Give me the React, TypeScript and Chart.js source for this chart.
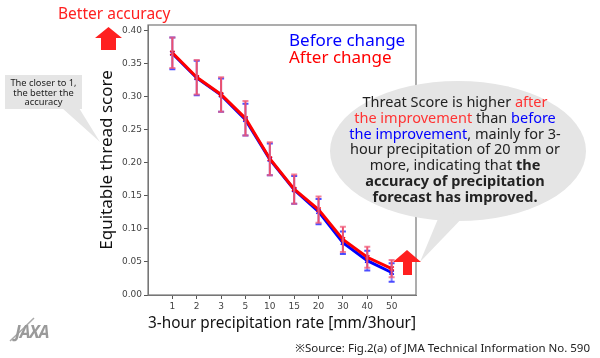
import React, { useEffect, useRef } from "react";
import { Chart, registerables } from "chart.js";

Chart.register(...registerables);

const categories = ["1", "2", "3", "5", "10", "15", "20", "30", "40", "50"];
const beforeValues = [0.365, 0.328, 0.302, 0.265, 0.205, 0.159, 0.126, 0.079, 0.052, 0.034];
const afterValues = [0.366, 0.329, 0.303, 0.267, 0.206, 0.16, 0.129, 0.084, 0.057, 0.04];
const beforeErrors = [0.024, 0.026, 0.025, 0.024, 0.024, 0.021, 0.019, 0.017, 0.015, 0.014];
const afterErrors = [0.023, 0.026, 0.026, 0.026, 0.025, 0.022, 0.02, 0.019, 0.016, 0.013];
const yTicks = [0, 0.05, 0.1, 0.15, 0.2, 0.25, 0.3, 0.35, 0.4];

const BLUE = "#0000ff";
const RED = "#ff0000";

const errorBarPlugin = {
  id: "errorBars",
  afterDatasetsDraw(chart: any) {
    const ctx = chart.ctx;
    const xs = chart.scales.x;
    const ys = chart.scales.y;
    const draw = (vals: number[], errs: number[], color: string, capColor: string) => {
      vals.forEach((v, i) => {
        const x = xs.getPixelForValue(i);
        const yt = ys.getPixelForValue(v + errs[i]);
        const yb = ys.getPixelForValue(v - errs[i]);
        ctx.save();
        ctx.strokeStyle = color;
        ctx.lineWidth = 2;
        ctx.beginPath();
        ctx.moveTo(x, yt);
        ctx.lineTo(x, yb);
        ctx.stroke();
        ctx.strokeStyle = capColor;
        ctx.beginPath();
        ctx.moveTo(x - 3, yt);
        ctx.lineTo(x + 3, yt);
        ctx.moveTo(x - 3, yb);
        ctx.lineTo(x + 3, yb);
        ctx.stroke();
        ctx.restore();
      });
    };
    draw(beforeValues, beforeErrors, "rgba(80,80,255,0.7)", "rgba(60,60,255,0.9)");
    draw(afterValues, afterErrors, "rgba(236,80,110,1)", "rgba(240,90,120,0.75)");
  },
  afterDraw(chart: any) {
    const { left, top, right, bottom } = chart.chartArea;
    const ctx = chart.ctx;
    ctx.save();
    ctx.strokeStyle = "#777";
    ctx.lineWidth = 1.2;
    ctx.strokeRect(left, top, right - left, bottom - top);
    ctx.restore();
  },
};

export default function App() {
  const ref = useRef<HTMLCanvasElement>(null);

  useEffect(() => {
    if (!ref.current) return;
    const chart = new Chart(ref.current, {
      type: "line",
      data: {
        datasets: [
          {
            label: "Before change",
            data: beforeValues.map((v, i) => ({ x: i, y: v })),
            order: 2,
            borderColor: BLUE,
            backgroundColor: BLUE,
            borderWidth: 3,
            pointStyle: "crossRot",
            pointRadius: 3,
            pointBorderWidth: 1.5,
            pointBorderColor: BLUE,
          },
          {
            label: "After change",
            data: afterValues.map((v, i) => ({ x: i, y: v })),
            order: 1,
            borderColor: RED,
            backgroundColor: RED,
            borderWidth: 3,
            pointStyle: "crossRot",
            pointRadius: 3,
            pointBorderWidth: 1.5,
            pointBorderColor: RED,
          },
        ],
      },
      options: {
        responsive: false,
        maintainAspectRatio: false,
        animation: false,
        layout: { padding: { left: 0, right: 184, top: 25, bottom: 0 } },
        plugins: { legend: { display: false }, tooltip: { enabled: false } },
        scales: {
          x: {
            type: "linear",
            min: -1,
            max: 10,
            afterBuildTicks: (s: any) => {
              s.ticks = categories.map((_, i) => ({ value: i }));
            },
            afterFit: (s: any) => {
              s.height = 63;
            },
            ticks: {
              autoSkip: false,
              maxRotation: 0,
              padding: 2,
              color: "#444",
              font: { family: "DejaVu Sans", size: 9 },
              callback: (v: any) => categories[v as number] ?? "",
            },
            grid: { drawOnChartArea: false, tickLength: 4, color: "#555" },
            border: { color: "#777" },
            title: {
              display: true,
              text: "3-hour precipitation rate [mm/3hour]",
              color: "#111",
              font: { family: "Noto Sans", size: 17 },
              padding: { top: 0, bottom: 25 },
            },
          },
          y: {
            min: 0,
            max: 0.408,
            afterBuildTicks: (s: any) => {
              s.ticks = yTicks.map((v) => ({ value: v }));
            },
            afterFit: (s: any) => {
              s.width = 148;
            },
            ticks: {
              padding: 2,
              color: "#444",
              font: { family: "DejaVu Sans", size: 9 },
              callback: (v: any) => Number(v).toFixed(2),
            },
            grid: { drawOnChartArea: false, tickLength: 4, color: "#555" },
            border: { color: "#777" },
            title: {
              display: true,
              text: "Equitable thread score",
              color: "#111",
              font: { family: "Noto Sans", size: 17 },
              padding: { top: 97, bottom: 0 },
            },
          },
        },
      },
      plugins: [errorBarPlugin],
    } as any);
    return () => chart.destroy();
  }, []);

  const font = "'Noto Sans', sans-serif";
  const abs = (s: React.CSSProperties): React.CSSProperties => ({ position: "absolute", ...s });

  return (
    <div style={{ position: "absolute", left: 0, top: 0, width: 600, height: 358, background: "#fff", overflow: "hidden", fontFamily: font }}>
      <canvas ref={ref} width={600} height={358} style={{ position: "absolute", left: 0, top: 0 }} />
      <svg width={600} height={358} style={{ position: "absolute", left: 0, top: 0 }}>
        <ellipse cx={458} cy={151} rx={128} ry={70} fill="#e5e5e5" />
        <polygon points="440,214 468,212 420,262" fill="#e5e5e5" />
        <rect x={5} y={75} width={77} height={34} fill="#e5e5e5" />
        <polygon points="62,108 79,108 100,142" fill="#e5e5e5" />
        <polygon points="95,38 108.5,27 122,38 116,38 116,50 101,50 101,38" fill="#ff2020" />
        <polygon points="393,262 407,250 421,262 412,262 412,275 403,275 403,262" fill="#ff2020" />
        <path d="M10,341 Q22,330 34,318" stroke="#aaa" strokeWidth={1.5} fill="none" />
      </svg>
      <div style={abs({ left: 58, top: 2, fontSize: 15.5, color: "#ff2020", whiteSpace: "nowrap" })}>Better accuracy</div>
      <div style={abs({ left: 289, top: 31, fontSize: 17, color: "#0000ff", lineHeight: "17px", whiteSpace: "nowrap" })}>
        Before change
        <br />
        <span style={{ color: "#ff0000" }}>After change</span>
      </div>
      <div style={abs({ left: 5, top: 78, width: 77, fontSize: 9.3, lineHeight: "9.6px", color: "#222", textAlign: "center" })}>
        The closer to 1,
        <br />
        the better the
        <br />
        accuracy
      </div>
      <div style={abs({ left: 330, top: 94, width: 250, fontSize: 14.5, lineHeight: "15.8px", color: "#222", textAlign: "center", whiteSpace: "nowrap" })}>
        Threat Score is higher <span style={{ color: "#ff3333" }}>after</span>
        <br />
        <span style={{ color: "#ff3333" }}>the improvement</span> than <span style={{ color: "#0000ff" }}>before</span>
        <br />
        <span style={{ color: "#0000ff" }}>the improvement</span>, mainly for 3-
        <br />
        hour precipitation of 20 mm or
        <br />
        more, indicating that <b>the</b>
        <br />
        <b>accuracy of precipitation</b>
        <br />
        <b>forecast has improved.</b>
      </div>
      <div style={abs({ left: 15, top: 320, fontSize: 17, fontWeight: 700, fontStyle: "italic", color: "#9a9a9a", letterSpacing: -1, whiteSpace: "nowrap" })}>JAXA</div>
      <div style={abs({ right: 10, top: 340, fontSize: 11.5, color: "#222", whiteSpace: "nowrap" })}>※Source: Fig.2(a) of JMA Technical Information No. 590</div>
    </div>
  );
}
